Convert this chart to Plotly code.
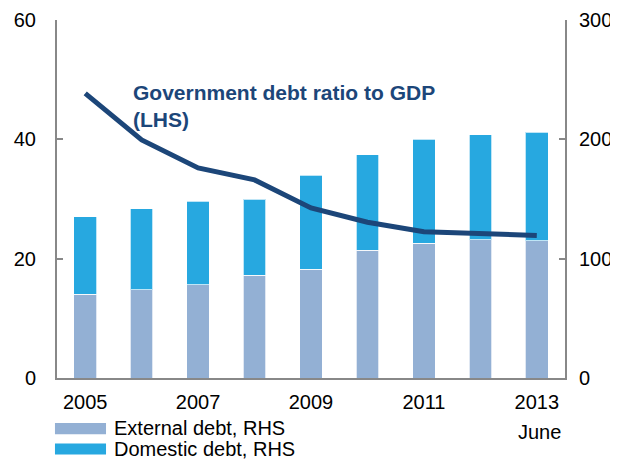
import plotly.graph_objects as go

years = ['2005', '2006', '2007', '2008', '2009', '2010', '2011', '2012', '2013']
external_debt = [70, 74, 78, 86, 91, 107, 113, 116, 115]
domestic_debt = [65, 68, 70, 64, 79, 80, 87, 88, 91]
debt_ratio = [47.7, 39.9, 35.2, 33.2, 28.5, 26.1, 24.5, 24.1, 23.9]

shown_years = ['2005', '2007', '2009', '2011', '2013']
lhs_ticks = [0, 20, 40, 60]
rhs_ticks = [0, 100, 200, 300]

FONT = 'Liberation Sans, Arial, sans-serif'
NAVY = '#1c4679'
EXT = '#93b0d4'
DOM = '#27a8e0'
AXIS = '#888888'

fig = go.Figure()
fig.add_bar(x=years, y=external_debt, name='External debt, RHS', yaxis='y',
            marker=dict(color=EXT, line=dict(color='rgba(255,255,255,0.7)', width=1)))
fig.add_bar(x=years, y=domestic_debt, name='Domestic debt, RHS', yaxis='y',
            marker=dict(color=DOM, line=dict(color='rgba(255,255,255,0.7)', width=1)))
fig.add_scatter(x=years, y=debt_ratio, mode='lines', yaxis='y2',
                line=dict(color=NAVY, width=5), name='Government debt ratio to GDP')

# page has an 8px body margin, so the figure is sized to fit the window
fig.update_layout(
    width=610, height=452,
    margin=dict(l=49, r=53, t=12, b=82, autoexpand=False),
    barmode='stack', bargap=0.6,
    showlegend=False,
    plot_bgcolor='white', paper_bgcolor='white',
    font=dict(family=FONT, size=20, color='black'),
    xaxis=dict(type='category', range=[-0.5, len(years) - 0.5],
               tickmode='array', tickvals=shown_years, tickangle=0,
               showline=True, linecolor=AXIS, linewidth=2, ticks='',
               showgrid=False, ticklabelstandoff=5),
    yaxis=dict(side='right', range=[0, 300], tickvals=rhs_ticks,
               showline=True, linecolor=AXIS, linewidth=2, showgrid=False,
               ticks='inside', ticklen=6, tickwidth=2, tickcolor=AXIS,
               zeroline=False, ticklabelstandoff=8),
    yaxis2=dict(side='left', overlaying='y', range=[0, 60], tickvals=lhs_ticks,
                showline=True, linecolor=AXIS, linewidth=2, showgrid=False,
                ticks='inside', ticklen=6, tickwidth=2, tickcolor=AXIS,
                zeroline=False, ticklabelstandoff=15),
)

fig.add_annotation(text='<b>Government debt ratio to GDP</b><br><b>(LHS)</b>',
                   xref='paper', yref='paper', x=0.146, y=0.836,
                   xanchor='left', yanchor='top', align='left', showarrow=False,
                   font=dict(size=21, color=NAVY, family=FONT))
fig.add_annotation(text='June', xref='x', yref='paper', x=years.index('2013'), y=-0.151,
                   xanchor='center', yanchor='middle', xshift=3, showarrow=False,
                   font=dict(size=20, color='black', family=FONT))

# hand-made legend with wide swatches
for i, (name, col) in enumerate([('External debt, RHS', EXT), ('Domestic debt, RHS', DOM)]):
    y0 = -0.126 - i * 0.057
    fig.add_shape(type='rect', xref='paper', yref='paper',
                  x0=-0.004, x1=0.0965, y0=y0, y1=y0 - 0.031,
                  fillcolor=col, line=dict(width=0))
    fig.add_annotation(text=name, xref='paper', yref='paper', x=0.108, y=y0 - 0.015,
                       xanchor='left', yanchor='middle', showarrow=False,
                       font=dict(size=20, color='black', family=FONT))

fig.write_html('out.html')
